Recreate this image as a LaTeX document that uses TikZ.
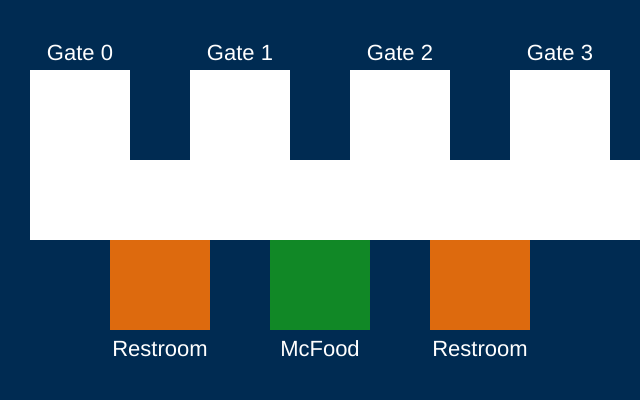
\documentclass[tikz,border=0pt]{standalone}
\usepackage{fontspec}
\setmainfont{Liberation Sans}
\definecolor{navy}{RGB}{0,43,82}
\definecolor{rorange}{RGB}{221,106,14}
\definecolor{fgreen}{RGB}{17,136,38}
\begin{document}
\begin{tikzpicture}[x=1pt,y=-1pt,
  area/.style={fill=#1,draw=none,inner sep=0pt,outer sep=0pt},
  lbl/.style={text=white,font=\fontsize{22}{26}\selectfont,anchor=base,inner sep=0pt}]
\fill[navy] (0,0) rectangle (640,400);
\useasboundingbox (0,0) rectangle (640,400);
% gates
\foreach \i/\x in {0/30,1/190,2/350,3/510}{
  \fill[white] (\x,70) rectangle ++(100,90);
  \node[lbl] (g\i) at (\x+50,60) {Gate \i};
}
% corridor
\fill[white] (30,160) rectangle (640,240);
% facilities
\fill[rorange] (110,240) rectangle (210,330);
\fill[fgreen] (270,240) rectangle (370,330);
\fill[rorange] (430,240) rectangle (530,330);
\node[lbl] (r1) at (160,356) {Restroom};
\node[lbl] (mc) at (320,356) {McFood};
\node[lbl] (r2) at (480,356) {Restroom};
\end{tikzpicture}
\end{document}
